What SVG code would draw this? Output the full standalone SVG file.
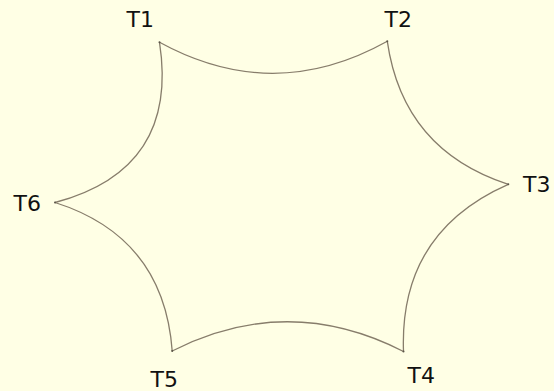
<svg xmlns="http://www.w3.org/2000/svg" width="554" height="391" viewBox="0 0 554 391">
<style>
.lbl{font-family:"DejaVu Sans","Liberation Sans",sans-serif;font-size:22px;fill:#111}
.edge{fill:none;stroke:#877d6b;stroke-width:1.3}
.pt{fill:#5a5448}
</style>
<rect width="554" height="391" fill="#ffffe5"/>
<g id="edges">
<path class="edge" d="M159.5,42.3 Q273.7,104.8 387.3,41.3"/>
<path class="edge" d="M387.3,41.3 Q403,150 508.3,184.3"/>
<path class="edge" d="M508.3,184.3 Q399.2,232.3 403.5,351.5"/>
<path class="edge" d="M403.5,351.5 Q287.9,292.3 172.2,351"/>
<path class="edge" d="M172.2,351 Q163.8,237.1 55,202.5"/>
<path class="edge" d="M55,202.5 Q179.2,169.4 159.5,42.3"/>
</g>
<g id="T1"><circle class="pt" cx="159.5" cy="42.3" r="1"/><text class="lbl" x="126.5" y="27">T1</text></g>
<g id="T2"><circle class="pt" cx="387.3" cy="41.3" r="1"/><text class="lbl" x="384.5" y="27">T2</text></g>
<g id="T3"><circle class="pt" cx="508.3" cy="184.3" r="1"/><text class="lbl" x="523" y="191.5">T3</text></g>
<g id="T4"><circle class="pt" cx="403.5" cy="351.5" r="1"/><text class="lbl" x="407.5" y="382.5">T4</text></g>
<g id="T5"><circle class="pt" cx="172.2" cy="351" r="1"/><text class="lbl" x="150.5" y="386.5">T5</text></g>
<g id="T6"><circle class="pt" cx="55" cy="202.5" r="1"/><text class="lbl" x="13.5" y="210.5">T6</text></g>
</svg>
